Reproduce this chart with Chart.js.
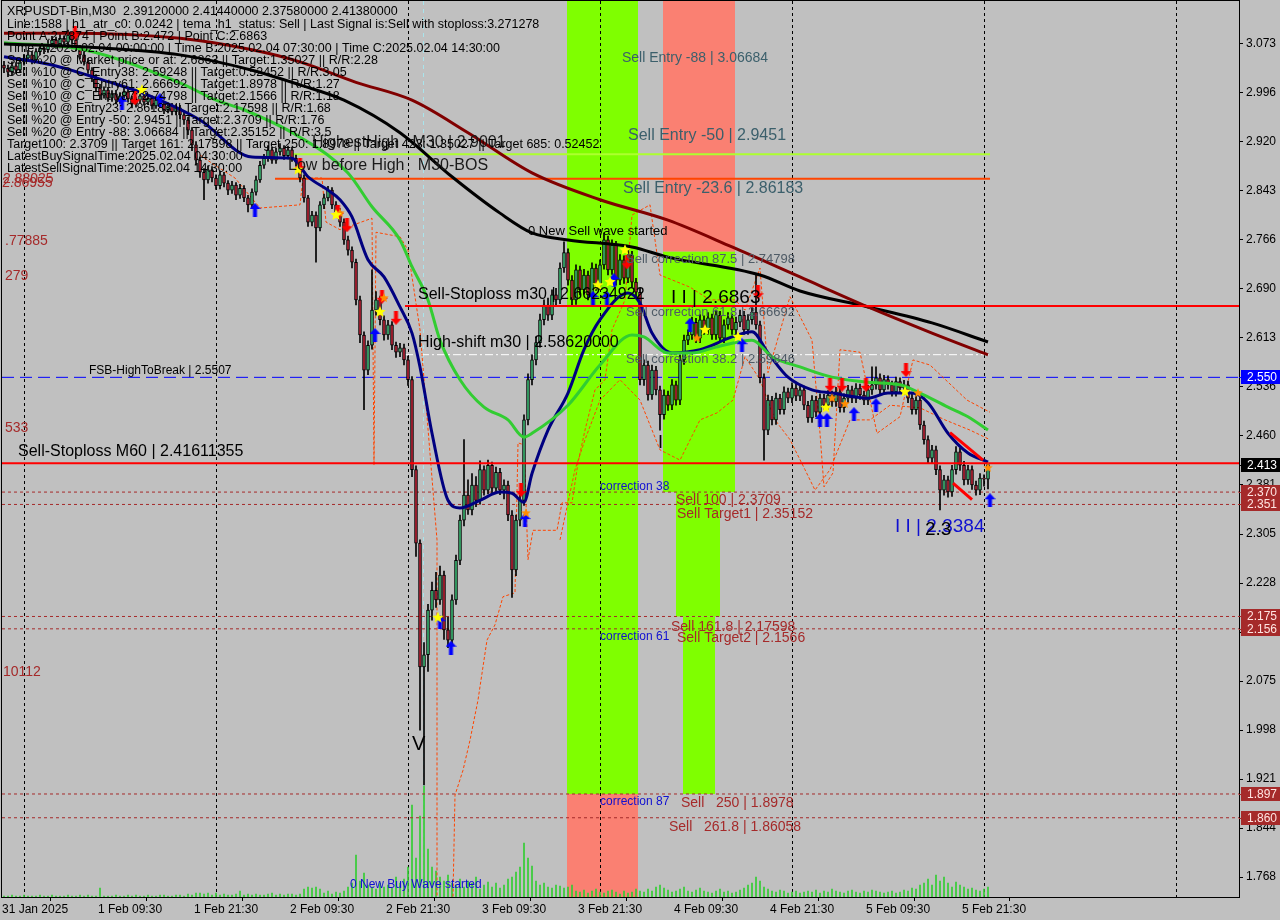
<!DOCTYPE html>
<html>
<head>
<meta charset="utf-8">
<script src="https://cdn.jsdelivr.net/npm/chart.js@4.4.1/dist/chart.umd.min.js"></script>
<style>
  html, body { margin: 0; padding: 0; background: #c0c0c0; }
  #wrap { width: 1280px; height: 920px; }
</style>
</head>
<body>
<div id="wrap"><canvas id="chart" width="1280" height="920"></canvas></div>
<script>
// XRPUSDT-Bin M30 bars, bar 0 = 31 Jan 21:30
const opens = [3.040,3.035,3.029,3.039,3.032,3.045,3.051,3.056,3.048,3.061,3.067,3.064,3.073,3.079,3.071,3.082,3.076,3.087,3.079,3.067,
  3.056,3.045,3.032,3.020,3.004,2.993,3.001,2.988,2.995,2.985,2.992,2.998,2.987,2.979,2.985,2.992,2.982,2.988,2.976,2.985,
  2.979,2.970,2.976,2.967,2.973,2.962,2.954,2.938,2.915,2.891,2.872,2.860,2.876,2.863,2.851,2.868,2.855,2.844,2.852,2.836,
  2.847,2.832,2.821,2.841,2.860,2.883,2.894,2.907,2.891,2.904,2.910,2.898,2.907,2.894,2.888,2.863,2.832,2.794,2.805,2.785,
  2.821,2.832,2.844,2.821,2.810,2.794,2.766,2.750,2.731,2.672,2.617,2.562,2.601,2.656,2.672,2.641,2.617,2.633,2.601,2.590,
  2.597,2.578,2.547,2.406,2.291,2.097,2.116,2.186,2.217,2.202,2.241,2.155,2.139,2.202,2.264,2.327,2.366,2.343,2.382,2.358,
  2.406,2.374,2.413,2.377,2.402,2.374,2.382,2.335,2.249,2.327,2.358,2.484,2.547,2.578,2.605,2.641,2.664,2.648,2.680,2.672,
  2.722,2.746,2.703,2.672,2.719,2.688,2.711,2.680,2.722,2.695,2.727,2.766,2.719,2.758,2.703,2.735,2.706,2.742,2.700,2.684,
  2.547,2.570,2.523,2.562,2.531,2.492,2.523,2.507,2.539,2.515,2.578,2.609,2.617,2.637,2.612,2.641,2.625,2.644,2.617,2.648,
  2.612,2.633,2.644,2.625,2.637,2.648,2.625,2.641,2.653,2.633,2.550,2.468,2.515,2.484,2.518,2.500,2.528,2.518,2.534,2.521,
  2.531,2.507,2.487,2.515,2.496,2.518,2.507,2.523,2.512,2.528,2.503,2.518,2.531,2.518,2.534,2.523,2.515,2.531,2.539,2.550,
  2.531,2.547,2.539,2.528,2.544,2.534,2.539,2.518,2.500,2.515,2.476,2.453,2.424,2.437,2.406,2.374,2.390,2.371,2.406,2.434,
  2.413,2.390,2.406,2.382,2.374,2.393,2.3912];
const highs = [3.046,3.040,3.045,3.044,3.050,3.057,3.063,3.061,3.066,3.073,3.072,3.079,3.085,3.084,3.088,3.086,3.095,3.091,3.083,3.071,
  3.060,3.050,3.036,3.025,3.010,3.006,3.005,3.000,2.999,2.997,3.004,3.002,2.991,2.990,2.998,2.996,2.993,2.992,2.990,2.989,
  2.983,2.981,2.980,2.978,2.977,2.966,2.958,2.942,2.920,2.896,2.878,2.882,2.881,2.868,2.874,2.872,2.859,2.858,2.856,2.853,
  2.851,2.836,2.846,2.866,2.889,2.900,2.914,2.911,2.910,2.917,2.914,2.913,2.911,2.899,2.892,2.868,2.836,2.811,2.810,2.826,
  2.838,2.850,2.848,2.826,2.815,2.799,2.772,2.755,2.736,2.678,2.622,2.608,2.719,2.685,2.678,2.647,2.640,2.638,2.606,2.604,
  2.603,2.584,2.552,2.412,2.296,2.135,2.195,2.230,2.245,2.255,2.247,2.175,2.210,2.272,2.335,2.453,2.390,2.400,2.395,2.420,
  2.412,2.421,2.418,2.410,2.408,2.390,2.388,2.342,2.335,2.366,2.492,2.556,2.586,2.614,2.650,2.672,2.675,2.688,2.690,2.730,
  2.763,2.752,2.710,2.727,2.725,2.720,2.717,2.730,2.728,2.735,2.777,2.772,2.766,2.764,2.743,2.741,2.750,2.748,2.706,2.690,
  2.578,2.576,2.570,2.568,2.537,2.531,2.529,2.547,2.545,2.586,2.617,2.625,2.645,2.643,2.649,2.647,2.652,2.650,2.656,2.654,
  2.641,2.652,2.650,2.645,2.656,2.654,2.649,2.661,2.711,2.639,2.556,2.523,2.521,2.526,2.524,2.536,2.534,2.542,2.540,2.538,
  2.537,2.513,2.522,2.521,2.525,2.524,2.530,2.529,2.535,2.534,2.525,2.538,2.537,2.541,2.540,2.529,2.538,2.567,2.567,2.556,
  2.554,2.553,2.545,2.551,2.550,2.546,2.545,2.524,2.522,2.521,2.482,2.459,2.444,2.443,2.412,2.397,2.396,2.413,2.442,2.440,
  2.419,2.413,2.412,2.388,2.400,2.398,2.4144];
const lows = [3.028,3.022,3.024,3.027,3.028,3.040,3.046,3.042,3.044,3.056,3.058,3.060,3.068,3.066,3.067,3.070,3.072,3.074,3.062,3.050,
  3.040,3.027,3.014,2.998,2.986,2.988,2.983,2.983,2.979,2.980,2.988,2.982,2.973,2.974,2.981,2.977,2.978,2.971,2.972,2.974,
  2.964,2.965,2.962,2.962,2.956,2.947,2.931,2.906,2.883,2.864,2.829,2.855,2.857,2.845,2.846,2.849,2.837,2.839,2.829,2.831,
  2.826,2.810,2.816,2.836,2.856,2.878,2.889,2.886,2.886,2.899,2.892,2.893,2.889,2.882,2.857,2.825,2.787,2.788,2.731,2.780,
  2.815,2.827,2.815,2.803,2.787,2.759,2.742,2.722,2.664,2.605,2.500,2.555,2.595,2.648,2.633,2.609,2.610,2.594,2.582,2.583,
  2.570,2.538,2.395,2.270,1.998,1.912,2.090,2.170,2.190,2.195,2.140,2.127,2.133,2.195,2.257,2.318,2.336,2.335,2.348,2.352,
  2.366,2.368,2.370,2.372,2.367,2.360,2.326,2.206,2.240,2.318,2.350,2.476,2.539,2.570,2.598,2.633,2.640,2.641,2.664,2.666,
  2.715,2.695,2.664,2.665,2.680,2.681,2.672,2.673,2.687,2.688,2.720,2.711,2.712,2.695,2.696,2.698,2.699,2.692,2.676,2.539,
  2.538,2.515,2.516,2.523,2.468,2.485,2.499,2.500,2.507,2.508,2.571,2.602,2.610,2.605,2.605,2.618,2.618,2.610,2.610,2.605,
  2.605,2.626,2.618,2.618,2.630,2.618,2.618,2.634,2.626,2.542,2.421,2.461,2.476,2.477,2.493,2.493,2.511,2.511,2.514,2.514,
  2.500,2.480,2.480,2.489,2.489,2.500,2.500,2.505,2.505,2.496,2.496,2.511,2.511,2.511,2.516,2.508,2.508,2.524,2.532,2.524,
  2.524,2.532,2.521,2.521,2.527,2.527,2.511,2.493,2.493,2.469,2.446,2.416,2.417,2.398,2.343,2.366,2.363,2.364,2.399,2.405,
  2.382,2.383,2.375,2.366,2.367,2.380,2.3758];
const closes = [3.035,3.029,3.039,3.032,3.045,3.051,3.056,3.048,3.061,3.067,3.064,3.073,3.079,3.071,3.082,3.076,3.087,3.079,3.067,3.056,
  3.045,3.032,3.020,3.004,2.993,3.001,2.988,2.995,2.985,2.992,2.998,2.987,2.979,2.985,2.992,2.982,2.988,2.976,2.985,2.979,
  2.970,2.976,2.967,2.973,2.962,2.954,2.938,2.915,2.891,2.872,2.860,2.876,2.863,2.851,2.868,2.855,2.844,2.852,2.836,2.847,
  2.832,2.821,2.841,2.860,2.883,2.894,2.907,2.891,2.904,2.910,2.898,2.907,2.894,2.888,2.863,2.832,2.794,2.805,2.785,2.821,
  2.832,2.844,2.821,2.810,2.794,2.766,2.750,2.731,2.672,2.617,2.562,2.601,2.656,2.672,2.641,2.617,2.633,2.601,2.590,2.597,
  2.578,2.547,2.406,2.291,2.097,2.116,2.186,2.217,2.202,2.241,2.155,2.139,2.202,2.264,2.327,2.366,2.343,2.382,2.358,2.406,
  2.374,2.413,2.377,2.402,2.374,2.382,2.335,2.249,2.327,2.358,2.484,2.547,2.578,2.605,2.641,2.664,2.648,2.680,2.672,2.722,
  2.746,2.703,2.672,2.719,2.688,2.711,2.680,2.722,2.695,2.727,2.766,2.719,2.758,2.703,2.735,2.706,2.742,2.700,2.684,2.547,
  2.570,2.523,2.562,2.531,2.492,2.523,2.507,2.539,2.515,2.578,2.609,2.617,2.637,2.612,2.641,2.625,2.644,2.617,2.648,2.612,
  2.633,2.644,2.625,2.637,2.648,2.625,2.641,2.653,2.633,2.550,2.468,2.515,2.484,2.518,2.500,2.528,2.518,2.534,2.521,2.531,
  2.507,2.487,2.515,2.496,2.518,2.507,2.523,2.512,2.528,2.503,2.518,2.531,2.518,2.534,2.523,2.515,2.531,2.539,2.550,2.531,
  2.547,2.539,2.528,2.544,2.534,2.539,2.518,2.500,2.515,2.476,2.453,2.424,2.437,2.406,2.374,2.390,2.371,2.406,2.434,2.413,
  2.390,2.406,2.382,2.374,2.393,2.3912,2.4138];
const volumes = [1,1,2,1,1,2,1,1,1,2,1,1,2,1,1,1,2,1,1,2,1,2,1,
  1,9,1,
  1,1,2,1,1,2,1,2,1,1,2,1,1,2,2,1,1,2,2,1,3,2,4,
  4,3,4,2,4, 2,3,2,2,3, 6, 2,3,2,3,2,2,3, 4, 2,3,2,3,3,2,3,
  8,10,9,10,8, 4,6,3,5,4,6, 10,14,42,16,24,12,10, 8,14,10,12,9, 20,14,18,30,
  92,39,81,111,48,30,26,20,16,22,14,
  12,18,10,16,14,20,8,12,15,10,14,9,12,18,20,
  25,30,54,39,31,16,12,14, 10,9,12,11,9,10,12,
  6,5,7,4,6,8,5,4,6,7,5,3,6,4,5,8,6,5,
  8,6,10,12,9,7,5,6,8,10,6,5,7,9,6,5,4,6,8,5,
  6,4,5,7,9,12,14,20,16,10,8,6,5,7,6,4,5,6,4,5,
  6,5,7,4,6,5,8,6,5,4,6,7,5,4,6,5,7,6,5,4,
  5,6,4,5,7,6,9,8,12,14,18,12,22,16,20,14,10,15,12,10,8,9,7,6,8,10];

// moving averages, [bar, price]
const maMaroon = [[0,3.090],[16,3.090],[44,3.082],[62,3.064],[74,3.045],[88,3.013],[102,2.985],[116,2.934],[132,2.871],
  [149,2.829],[166,2.797],[182,2.755],[199,2.708],[216,2.661],[232,2.620],[246,2.586]];
const maBlack = [[0,3.073],[24,3.067],[44,3.056],[62,3.032],[74,3.009],[85,2.985],[99,2.934],[112,2.865],[124,2.808],
  [132,2.777],[141,2.766],[157,2.755],[166,2.739],[189,2.711],[199,2.686],[216,2.661],[232,2.636],[246,2.606]];
const maGreen = [[0,3.075],[20,3.064],[44,3.012],[53,2.985],[60,2.970],[74,2.927],[86,2.871],[92,2.818],[99,2.766],
  [102,2.724],[106,2.672],[109,2.609],[114,2.547],[120,2.504],[126,2.484],[130,2.457],[132,2.463],[141,2.507],
  [149,2.570],[157,2.617],[160,2.614],[166,2.589],[172,2.589],[178,2.598],[187,2.609],[192,2.583],[199,2.567],
  [207,2.551],[216,2.543],[224,2.539],[229,2.526],[236,2.504],[241,2.489],[246,2.468]];
const maNavy = [[0,3.053],[12,3.040],[26,3.014],[36,2.993],[49,2.954],[62,2.896],[72,2.894],[76,2.865],[81,2.844],
  [84,2.829],[87,2.802],[91,2.735],[95,2.708],[99,2.661],[102,2.620],[104,2.567],[107,2.463],[111,2.358],[114,2.346],
  [119,2.358],[124,2.371],[127,2.369],[130,2.355],[132,2.400],[136,2.468],[141,2.526],[145,2.594],[149,2.641],
  [156,2.683],[159,2.667],[162,2.620],[167,2.589],[174,2.594],[182,2.614],[187,2.622],[191,2.589],[196,2.551],
  [202,2.531],[207,2.526],[216,2.518],[221,2.526],[227,2.526],[231,2.511],[236,2.463],[241,2.432],[246,2.418]];
const wedgeUpper = [[236.5,2.464],[244.75,2.421]];
const wedgeLower = [[237.25,2.385],[242,2.359]];

// dashed orange channel steps, [bar, price]
const orangeA = [[49,2.899],[52.75,2.883],[57.75,2.863],[64,2.816],[74,2.821],[74.75,2.863],[79.5,2.863],[80.5,2.794],
  [84,2.782],[92,2.800],[92.5,2.413],[93,2.778],[99,2.771],[101,2.750],[104,2.625],[108.25,2.296],[108.25,1.737]];
const orangeB = [[112.25,1.737],[112.75,1.896],[114.75,1.935],[116.5,1.982],[118.5,2.045],[120.75,2.139],[122.75,2.163],
  [124.75,2.207],[127.75,2.213],[128.5,2.448],[130,2.445],[131,2.265],[132.25,2.311],[138.25,2.311],[139.5,2.354],
  [142,2.354],[143.5,2.417],[145.25,2.468],[147.75,2.531],[150.25,2.547],[152,2.625],[155.25,2.672],[157,2.805],
  [161.5,2.821],[164,2.711],[171.5,2.692],[176.5,2.672],[182.75,2.672],[185.25,2.656],[189,2.722],[191,2.558],
  [196.5,2.677],[202,2.609],[204,2.463],[205,2.379],[207.25,2.401],[209,2.594],[214,2.590],[218.25,2.463],
  [224,2.489],[227.25,2.578],[231.5,2.570],[240.75,2.515],[246.5,2.496]];
const orangeC = [[139,2.296],[142.75,2.406],[145.25,2.453],[149,2.515],[154,2.547],[159,2.515],[164,2.437],[169,2.421],
  [174,2.484],[178.25,2.495],[182.25,2.515],[185.25,2.583],[189,2.547],[192.75,2.484],[196.5,2.453],[200.25,2.406],
  [202.75,2.374],[206.5,2.406],[211.5,2.484],[216.5,2.484],[221.5,2.507],[229,2.503],[235.25,2.484],[241.5,2.468],[246.5,2.453]];

// signals, [bar, price]
const sellArrows = [[17.75,3.090],[32.75,2.988],[74,2.883],[83.5,2.810],[85.75,2.789],[94.5,2.677],[98,2.644],[129.25,2.374],
  [155.75,2.731],[188.5,2.684],[206.5,2.539],[209.5,2.539],[215.5,2.539],[225.5,2.562]];
const buyArrows = [[29.5,2.981],[39,2.985],[62.75,2.813],[92.75,2.617],[130.25,2.327],[109,2.167],[111.75,2.127],[147.25,2.675],
  [150.75,2.675],[152.5,2.703],[171.5,2.633],[184.5,2.601],[204,2.484],[205.75,2.484],[212.5,2.493],[218,2.507],[246.5,2.358]];
const yellowStars = [[34.5,3.001],[73.5,2.876],[83,2.805],[94,2.653],[108.5,2.174],[148.5,2.695],[151.5,2.700],[155.25,2.750],
  [175.25,2.625],[183.5,2.614],[205.5,2.503],[225.25,2.528]];
const orangeStars = [[84,2.808],[95,2.675],[130.5,2.338],[173.25,2.612],[207,2.518],[210.25,2.509],[228.5,2.526],[246,2.409]];

// price levels
const levelPrices = [2.41611355, 2.66234922, 2.5507, 2.5862, 2.9001, 2.86183, 2.3709, 2.35152, 2.17598, 2.1566, 1.8978, 1.86058];
const levelFrom = [-0.5, 100.25, -0.5, 100.25, 71.5, 67.75, -0.5, -0.5, -0.5, -0.5, -0.5, -0.5];
const levelTo = [308.75, 308.75, 308.75, 246.5, 246.5, 246.5, 308.75, 308.75, 308.75, 308.75, 308.75, 308.75];

// zones: [barFrom, barTo, priceLow, priceHigh]
const greenZones = [[140.75,158.5,1.8978,3.1404],[164.75,182.75,2.3709,2.74798],[168,179,2.17598,2.3709],[169.75,177.75,1.8978,2.17598]];
const redZones = [[140.75,158.5,1.7364,1.8978],[164.75,182.75,2.74798,3.1404]];

const dayLines = [5, 53, 101, 149, 197, 245, 293];
const xTickPos = [-0.5, 23.5, 47.5, 71.5, 95.5, 119.5, 143.5, 167.5, 191.5, 215.5, 239.5];
const xTickLabels = ['31 Jan 2025','1 Feb 09:30','1 Feb 21:30','2 Feb 09:30','2 Feb 21:30','3 Feb 09:30',
  '3 Feb 21:30','4 Feb 09:30','4 Feb 21:30','5 Feb 09:30','5 Feb 21:30'];
const yTickVals = [3.0732, 2.9964, 2.9196, 2.8428, 2.766, 2.6892, 2.6124, 2.5356, 2.4588, 2.382, 2.3052, 2.2284,
  2.1516, 2.0748, 1.998, 1.9212, 1.8444, 1.7676];
const yTickLabels = ['3.073','2.996','2.920','2.843','2.766','2.690','2.613','2.536','2.460','2.381','2.305','2.228',
  '2.151','2.075','1.998','1.921','1.844','1.768'];

const axisBoxes = [
  [2.5507, '2.550', '#0000ff', '#ffffff'],
  [2.4138, '2.413', '#000000', '#ffffff'],
  [2.3709, '2.370', '#a52a2a', '#ffe4e1'],
  [2.35152, '2.351', '#a52a2a', '#ffe4e1'],
  [2.17598, '2.175', '#a52a2a', '#ffe4e1'],
  [2.1566, '2.156', '#a52a2a', '#ffe4e1'],
  [1.8978, '1.897', '#a52a2a', '#ffe4e1'],
  [1.86058, '1.860', '#a52a2a', '#ffe4e1'],
];

const infoLines = [
  'XRPUSDT-Bin,M30  2.39120000 2.41440000 2.37580000 2.41380000',
  'Line:1588 | h1_atr_c0: 0.0242 | tema_h1_status: Sell | Last Signal is:Sell with stoploss:3.271278',
  'Point A:2.7874 | Point B:2.472 | Point C:2.6863',
  'Time A:2025.02.04 00:00:00 | Time B:2025.02.04 07:30:00 | Time C:2025.02.04 14:30:00',
  'Sell %20 @ Market price or at: 2.6863 || Target:1.35027 || R/R:2.28',
  'Sell %10 @ C_Entry38: 2.59248 || Target:0.52452 || R/R:3.05',
  'Sell %10 @ C_Entry61: 2.66692 || Target:1.8978 || R/R:1.27',
  'Sell %10 @ C_Entry87: 2.74798 || Target:2.1566 || R/R:1.18',
  'Sell %10 @ Entry23: 2.86183 || Target:2.17598 || R/R:1.68',
  'Sell %20 @ Entry -50: 2.9451 || Target:2.3709 || R/R:1.76',
  'Sell %20 @ Entry -88: 3.06684 || Target:2.35152 || R/R:3.5',
  'Target100: 2.3709 || Target 161: 2.17598 || Target 250: 1.8978 || Target 423: 1.35027 || Target 685: 0.52452',
  'LatestBuySignalTime:2025.02.04 04:30:00',
  'LatestSellSignalTime:2025.02.04 14:30:00',
];

const SLATE = '#3b5f6b', GREY = '#4f5b66', BLUE = '#1010d0', BROWN = '#a52a2a';
// [text, bar, price, size, color]
const notes = [
  ['HighestHigh   M30 | 2.9001', 77, 2.918, 16, '#1a1a1a'],
  ['Low before High   M30-BOS', 71, 2.882, 16, '#1a1a1a'],
  ['Sell Entry -88 | 3.06684', 154.5, 3.051, 14, SLATE],
  ['Sell Entry -50 | 2.9451', 156, 2.930, 16, SLATE],
  ['Sell Entry -23.6 | 2.86183', 154.75, 2.847, 16, SLATE],
  ['0 New Sell wave started', 131, 2.780, 13, '#000'],
  ['Sell correction 87.5 | 2.74798', 155.5, 2.735, 13, GREY],
  ['Sell-Stoploss m30 | 2.66234922', 103.5, 2.680, 16, '#000'],
  ['I I | 2.6863', 166.75, 2.675, 19, '#000'],
  ['Sell correction 61.8 | 2.66692', 155.5, 2.653, 13, GREY],
  ['High-shift m30 | 2.58620000', 103.5, 2.605, 16, '#000'],
  ['Sell correction 38.2 | 2.59846', 155.5, 2.579, 13, GREY],
  ['FSB-HighToBreak | 2.5507', 21.25, 2.561, 12, '#000'],
  ['Sell-Stoploss M60 | 2.41611355', 3.5, 2.434, 16, '#000'],
  ['correction 38', 149, 2.380, 12, BLUE],
  ['Sell 100 | 2.3709', 168, 2.358, 14, BROWN],
  ['Sell Target1 | 2.35152', 168.25, 2.337, 14, BROWN],
  ['I I | 2.3384', 222.75, 2.316, 19, BLUE],
  ['2.3', 230.25, 2.312, 19, '#000'],
  ['Sell 161.8 | 2.17598', 166.75, 2.159, 14, BROWN],
  ['Sell Target2 | 2.1566', 168.25, 2.142, 14, BROWN],
  ['correction 61', 149, 2.144, 12, BLUE],
  ['correction 87', 149, 1.885, 12, BLUE],
  ['Sell   250 | 1.8978', 169.25, 1.884, 14, BROWN],
  ['Sell   261.8 | 1.86058', 166.25, 1.846, 14, BROWN],
  ['0 New Buy Wave started', 86.5, 1.755, 12, BLUE],
  ['2.88025', -0.25, 2.862, 14, BROWN],
  ['2.86955', -0.5, 2.855, 14, BROWN],
  ['.77885', 0.25, 2.764, 14, BROWN],
  ['279', 0.25, 2.710, 14, BROWN],
  ['533', 0.25, 2.471, 14, BROWN],
  ['10112', -0.25, 2.089, 14, BROWN],
  ['V', 102, 1.975, 20, '#000'],
  ['I', 163.5, 2.448, 18, '#000'],
];

const FONT = '"Liberation Sans", Arial, sans-serif';

function makeArrow(color, up) {
  const c = document.createElement('canvas');
  c.width = 11; c.height = 14;
  const g = c.getContext('2d');
  g.fillStyle = color;
  g.beginPath();
  if (up) {
    g.moveTo(5.5, 0); g.lineTo(11, 6); g.lineTo(7.5, 6); g.lineTo(7.5, 14); g.lineTo(3.5, 14); g.lineTo(3.5, 6); g.lineTo(0, 6);
  } else {
    g.moveTo(5.5, 14); g.lineTo(11, 8); g.lineTo(7.5, 8); g.lineTo(7.5, 0); g.lineTo(3.5, 0); g.lineTo(3.5, 8); g.lineTo(0, 8);
  }
  g.closePath();
  g.fill();
  return c;
}

function makeStar(color, r) {
  const c = document.createElement('canvas');
  c.width = 2 * r + 2; c.height = 2 * r + 2;
  const g = c.getContext('2d');
  g.fillStyle = color;
  g.beginPath();
  for (let k = 0; k < 10; k++) {
    const a = -Math.PI / 2 + k * Math.PI / 5;
    const rad = k % 2 ? r * 0.45 : r;
    g.lineTo(r + 1 + rad * Math.cos(a), r + 1 + rad * Math.sin(a));
  }
  g.closePath();
  g.fill();
  return c;
}

const pts = arr => arr.map(p => ({ x: p[0], y: p[1] }));

function lineSet(arr, color, width, order, extra) {
  return Object.assign({
    type: 'line', data: pts(arr), borderColor: color, borderWidth: width,
    pointRadius: 0, fill: false, order: order, yAxisID: 'y'
  }, extra || {});
}

const datasets = [];

datasets.push({
  type: 'bar', label: 'volume', yAxisID: 'yv',
  data: volumes.map((v, i) => ({ x: i, y: v })),
  backgroundColor: '#32cd32', barThickness: 1, grouped: false, order: 20
});

const levelStyles = [
  ['#ff0000', 2, []], ['#ff0000', 2, []], ['#0000ff', 1, [12, 6]], ['#ffffff', 1, [8, 3, 2, 3]],
  ['#adff2f', 2, []], ['#ff4500', 2, []],
  ['#a52a2a', 1, [3, 3]], ['#a52a2a', 1, [3, 3]], ['#a52a2a', 1, [3, 3]], ['#a52a2a', 1, [3, 3]],
  ['#a52a2a', 1, [3, 3]], ['#a52a2a', 1, [3, 3]]
];
levelPrices.forEach((p, k) => {
  const st = levelStyles[k];
  datasets.push(lineSet([[levelFrom[k], p], [levelTo[k], p]], st[0], st[1], k < 2 ? 2 : 8, { borderDash: st[2] }));
});

[orangeA, orangeB, orangeC].forEach(a => {
  datasets.push(lineSet(a, '#ff4500', 1, 7, { borderDash: [3, 2] }));
});

datasets.push({
  type: 'bar', label: 'wicks', yAxisID: 'y',
  data: lows.map((l, i) => ({ x: i, y: [l, highs[i]] })),
  backgroundColor: '#000000', barThickness: 1, grouped: false, order: 6
});
datasets.push({
  type: 'bar', label: 'bodies', yAxisID: 'y',
  data: opens.map((o, i) => ({ x: i, y: [o, closes[i]] })),
  backgroundColor: opens.map((o, i) => closes[i] >= o ? '#3cb371' : '#b22234'),
  borderColor: '#000000', borderWidth: 1, borderSkipped: false,
  barThickness: 3, grouped: false, order: 5
});

datasets.push(lineSet(maMaroon, '#800000', 3, 4, { cubicInterpolationMode: 'monotone' }));
datasets.push(lineSet(maBlack, '#000000', 3, 4, { cubicInterpolationMode: 'monotone' }));
datasets.push(lineSet(maGreen, '#32cd32', 3, 4, { cubicInterpolationMode: 'monotone' }));
datasets.push(lineSet(maNavy, '#000080', 3, 4, { cubicInterpolationMode: 'monotone' }));
datasets.push(lineSet(wedgeUpper, '#ff0000', 3, 3));
datasets.push(lineSet(wedgeLower, '#ff0000', 3, 3));

const markerSet = (arr, icon) => ({
  type: 'line', data: pts(arr), showLine: false, pointStyle: icon, pointRadius: 6, order: 1, yAxisID: 'y'
});
datasets.push(markerSet(yellowStars, makeStar('#ffff00', 6)));
datasets.push(markerSet(orangeStars, makeStar('#ff8c00', 5)));
datasets.push(markerSet(sellArrows, makeArrow('#ff0000', false)));
datasets.push(markerSet(buyArrows, makeArrow('#0000ff', true)));

const mtPlugin = {
  id: 'mt',
  beforeDraw(chart) {
    const ctx = chart.ctx;
    ctx.save();
    ctx.fillStyle = '#c0c0c0';
    ctx.fillRect(0, 0, chart.width, chart.height);
    ctx.restore();
  },
  beforeDatasetsDraw(chart) {
    const { ctx, chartArea: a, scales: { x, y } } = chart;
    ctx.save();
    ctx.beginPath();
    ctx.rect(a.left, a.top, a.right - a.left, a.bottom - a.top);
    ctx.clip();
    const box = (z, color) => {
      const x0 = x.getPixelForValue(z[0]), x1 = x.getPixelForValue(z[1]);
      const y0 = y.getPixelForValue(z[3]), y1 = y.getPixelForValue(z[2]);
      ctx.fillStyle = color;
      ctx.fillRect(x0, y0, x1 - x0, y1 - y0);
    };
    greenZones.forEach(z => box(z, '#7fff00'));
    redZones.forEach(z => box(z, '#fa8072'));
    ctx.lineWidth = 1;
    ctx.strokeStyle = '#000000';
    ctx.setLineDash([3, 3]);
    dayLines.forEach(v => {
      const px = Math.round(x.getPixelForValue(v)) + 0.5;
      ctx.beginPath(); ctx.moveTo(px, a.top); ctx.lineTo(px, a.bottom); ctx.stroke();
    });
    ctx.strokeStyle = '#a8e4ec';
    ctx.setLineDash([4, 4]);
    const cx = Math.round(x.getPixelForValue(104.75)) + 0.5;
    ctx.beginPath(); ctx.moveTo(cx, a.top); ctx.lineTo(cx, a.bottom); ctx.stroke();
    ctx.restore();
  },
  afterDatasetsDraw(chart) {
    const { ctx, chartArea: a, scales: { x, y } } = chart;
    ctx.save();
    ctx.beginPath();
    ctx.rect(a.left, a.top, a.right - a.left, a.bottom - a.top);
    ctx.clip();
    ctx.textBaseline = 'middle';
    ctx.textAlign = 'left';
    notes.forEach(n => {
      ctx.font = n[3] + 'px ' + FONT;
      ctx.fillStyle = n[4];
      ctx.fillText(n[0], x.getPixelForValue(n[1]), y.getPixelForValue(n[2]));
    });
    ctx.font = '12.5px ' + FONT;
    ctx.fillStyle = '#000000';
    infoLines.forEach((t, k) => ctx.fillText(t, 7, 12 + k * 12.08));
    ctx.restore();
  },
  afterDraw(chart) {
    const { ctx, chartArea: a, scales: { y } } = chart;
    ctx.save();
    ctx.strokeStyle = '#000000';
    ctx.lineWidth = 1;
    ctx.setLineDash([]);
    ctx.strokeRect(a.left - 0.5, a.top - 0.5, a.right - a.left + 1, a.bottom - a.top + 1);
    ctx.font = '12px ' + FONT;
    ctx.textBaseline = 'middle';
    ctx.textAlign = 'left';
    axisBoxes.forEach(b => {
      const py = Math.round(y.getPixelForValue(b[0]));
      ctx.fillStyle = b[2];
      ctx.fillRect(a.right + 2, py - 7, 40, 14);
      ctx.strokeStyle = b[2];
      ctx.beginPath(); ctx.moveTo(a.right, py + 0.5); ctx.lineTo(a.right + 3, py + 0.5); ctx.stroke();
      ctx.fillStyle = b[3];
      ctx.fillText(b[1], a.right + 8, py + 1);
    });
    ctx.restore();
  }
};

new Chart(document.getElementById('chart'), {
  type: 'bar',
  data: { datasets: datasets },
  options: {
    responsive: false,
    animation: false,
    devicePixelRatio: 1,
    events: [],
    layout: { autoPadding: false, padding: { left: 2, top: 1, right: 0, bottom: 0 } },
    plugins: { legend: { display: false }, tooltip: { enabled: false } },
    scales: {
      x: {
        type: 'linear', min: -0.5, max: 308.75, offset: false,
        afterBuildTicks: s => { s.ticks = xTickPos.map(v => ({ value: v })); },
        afterFit: s => { s.height = 23; s.paddingLeft = 0; s.paddingRight = 0; },
        ticks: {
          autoSkip: false, maxRotation: 0, align: 'start', padding: 1, color: '#000',
          font: { family: FONT, size: 12 },
          callback: (v) => xTickLabels[xTickPos.indexOf(v)]
        },
        grid: { drawOnChartArea: false, drawTicks: true, tickLength: 4, color: '#000' },
        border: { display: true, color: '#000' }
      },
      y: {
        type: 'linear', position: 'right', min: 1.7364, max: 3.1404,
        afterBuildTicks: s => { s.ticks = yTickVals.map(v => ({ value: v })); },
        afterFit: s => { s.width = 41; s.paddingTop = 0; s.paddingBottom = 0; },
        ticks: {
          autoSkip: false, padding: 3, color: '#000',
          font: { family: FONT, size: 12 },
          callback: (v) => yTickLabels[yTickVals.indexOf(v)]
        },
        grid: { drawOnChartArea: false, drawTicks: true, tickLength: 4, color: '#000' },
        border: { display: true, color: '#000' }
      },
      yv: { type: 'linear', display: false, min: 0, max: 896 }
    }
  },
  plugins: [mtPlugin]
});
</script>
</body>
</html>
